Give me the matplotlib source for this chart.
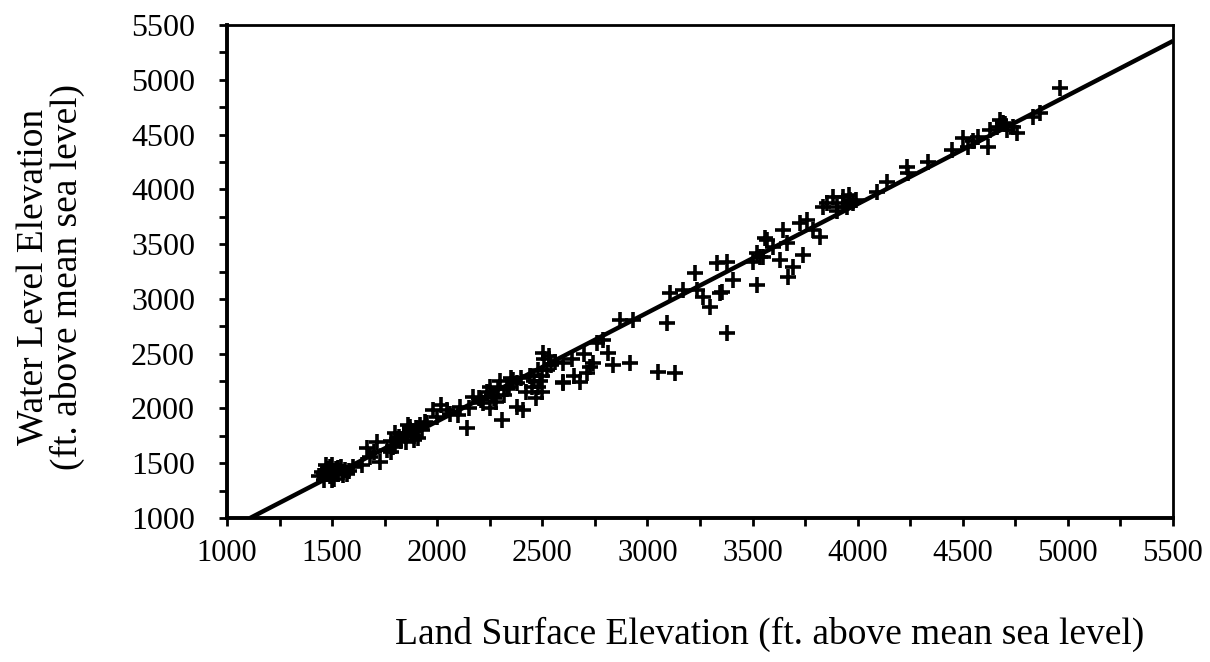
import matplotlib
matplotlib.use("Agg")
import matplotlib.pyplot as plt
from matplotlib.ticker import MultipleLocator

# ── data ────────────────────────────────────────────────
land = [
    # 1400-1600 cluster
    1440, 1450, 1460, 1470, 1480, 1490, 1500, 1500, 1510, 1520, 1530, 1540,
    1550, 1560, 1570, 1580, 1470, 1500, 1530, 1460, 1520, 1490, 1550, 1600,
    # 1600-1750
    1640, 1666, 1680, 1713, 1728, 1700,
    # 1750-1960
    1760, 1780, 1790, 1800, 1810, 1820, 1840, 1850, 1860, 1870, 1880, 1890,
    1900, 1910, 1930, 1950, 1800, 1860, 1780, 1890, 1830, 1920, 1870, 1940,
    # 1980-2180
    1980, 2000, 2045, 2060, 2108, 2100, 2140, 2170, 2150, 2020,
    # 2200-2550
    2200, 2220, 2235, 2250, 2270, 2290, 2300, 2320, 2340, 2360, 2380, 2250,
    2280, 2308, 2380, 2408, 2400, 2420, 2440, 2460, 2480, 2500, 2520, 2480,
    2500, 2470, 2503, 2530, 2510, 2540, 2210, 2330, 2260, 2350, 2450, 2490,
    # 2550-3000
    2598, 2598, 2600, 2650, 2679, 2712, 2727, 2741, 2760, 2790, 2814, 2836,
    2870, 2917, 2932, 2700, 2640, 2560,
    # 3000-3600
    3050, 3093, 3107, 3131, 3170, 3226, 3236, 3265, 3298, 3331, 3345, 3355,
    3379, 3379, 3408, 3502, 3521, 3536, 3550, 3560, 3520,
    # 3600-4000
    3569, 3598, 3631, 3645, 3664, 3669, 3693, 3726, 3740, 3760, 3788, 3821,
    3836, 3855, 3883, 3902, 3931, 3950, 3964, 3978, 3900, 3960, 3930, 3990,
    # 4000-5000
    4092, 4140, 4235, 4240, 4335, 4449, 4502, 4525, 4549, 4573, 4620, 4630,
    4663, 4678, 4692, 4711, 4740, 4758, 4700, 4835, 4868, 4963,
]
water = [
    1380, 1420, 1350, 1400, 1450, 1380, 1420, 1480, 1360, 1450, 1400, 1470,
    1420, 1440, 1400, 1430, 1480, 1350, 1460, 1410, 1430, 1470, 1390, 1470,
    1480, 1640, 1560, 1694, 1511, 1600,
    1620, 1700, 1650, 1660, 1720, 1740, 1760, 1690, 1780, 1800, 1760, 1710,
    1820, 1730, 1800, 1870, 1780, 1850, 1600, 1750, 1700, 1850, 1830, 1880,
    1985, 1920, 1985, 1950, 2013, 1940, 1820, 2105, 2000, 2030,
    2100, 2050, 2150, 2200, 2100, 2180, 2250, 2120, 2200, 2260, 2230, 2000,
    2060, 1895, 2013, 1985, 2280, 2150, 2300, 2250, 2200, 2300, 2350, 2350,
    2150, 2100, 2506, 2480, 2450, 2400, 2080, 2180, 2120, 2280, 2200, 2250,
    2415, 2232, 2241, 2300, 2241, 2323, 2378, 2415, 2598, 2625, 2506, 2397,
    2807, 2415, 2807, 2500, 2450, 2420,
    2332, 2780, 3054, 2323, 3081, 3236, 3081, 3017, 2926, 3327, 3054, 3063,
    3337, 2688, 3172, 3337, 3127, 3382, 3382, 3556, 3420,
    3537, 3474, 3355, 3628, 3510, 3200, 3291, 3692, 3400, 3720, 3628, 3565,
    3839, 3875, 3930, 3839, 3930, 3839, 3902, 3875, 3800, 3950, 3880, 3900,
    3975, 4067, 4204, 4149, 4249, 4359, 4468, 4386, 4440, 4477, 4386, 4541,
    4569, 4633, 4605, 4541, 4569, 4514, 4600, 4660, 4697, 4925,
]

fit_x = [1110, 5500]
fit_y = [1000, 5354]

x_ticks = [1000, 1500, 2000, 2500, 3000, 3500, 4000, 4500, 5000, 5500]
y_ticks = [1000, 1500, 2000, 2500, 3000, 3500, 4000, 4500, 5000, 5500]

# ── plot ────────────────────────────────────────────────
plt.rcParams["font.family"] = ["Liberation Serif", "DejaVu Serif"]

fig = plt.figure(figsize=(12.1, 6.62), dpi=100)
ax = fig.add_axes([0.1876, 0.2175, 0.7818, 0.7447])

ax.plot(land, water, linestyle="none", marker="+", color="black",
        markersize=11, markeredgewidth=2.6)
ax.plot(fit_x, fit_y, color="black", linewidth=3.2, solid_capstyle="butt")

ax.set_xlim(1000, 5500)
ax.set_ylim(1000, 5500)
ax.set_xticks(x_ticks)
ax.set_yticks(y_ticks)
ax.xaxis.set_minor_locator(MultipleLocator(250))
ax.yaxis.set_minor_locator(MultipleLocator(250))
ax.tick_params(which="both", direction="out", length=6, width=2,
               color="black")
ax.tick_params(axis="x", labelsize=22, pad=9)
ax.tick_params(axis="y", labelsize=23, pad=17)

for side in ["left", "bottom"]:
    ax.spines[side].set_linewidth(2.8)
for side in ["top", "right"]:
    ax.spines[side].set_linewidth(2.0)

ax.set_xlabel("Land Surface Elevation (ft. above mean sea level)",
              fontsize=27, va="center")
ax.xaxis.set_label_coords(0.574, -0.237)
ax.set_ylabel("Water Level Elevation\n(ft. above mean sea level)",
              fontsize=27, linespacing=0.95, va="center", ha="center")
ax.yaxis.set_label_coords(-0.186, 0.489)

fig.savefig("out.png", dpi=100)
